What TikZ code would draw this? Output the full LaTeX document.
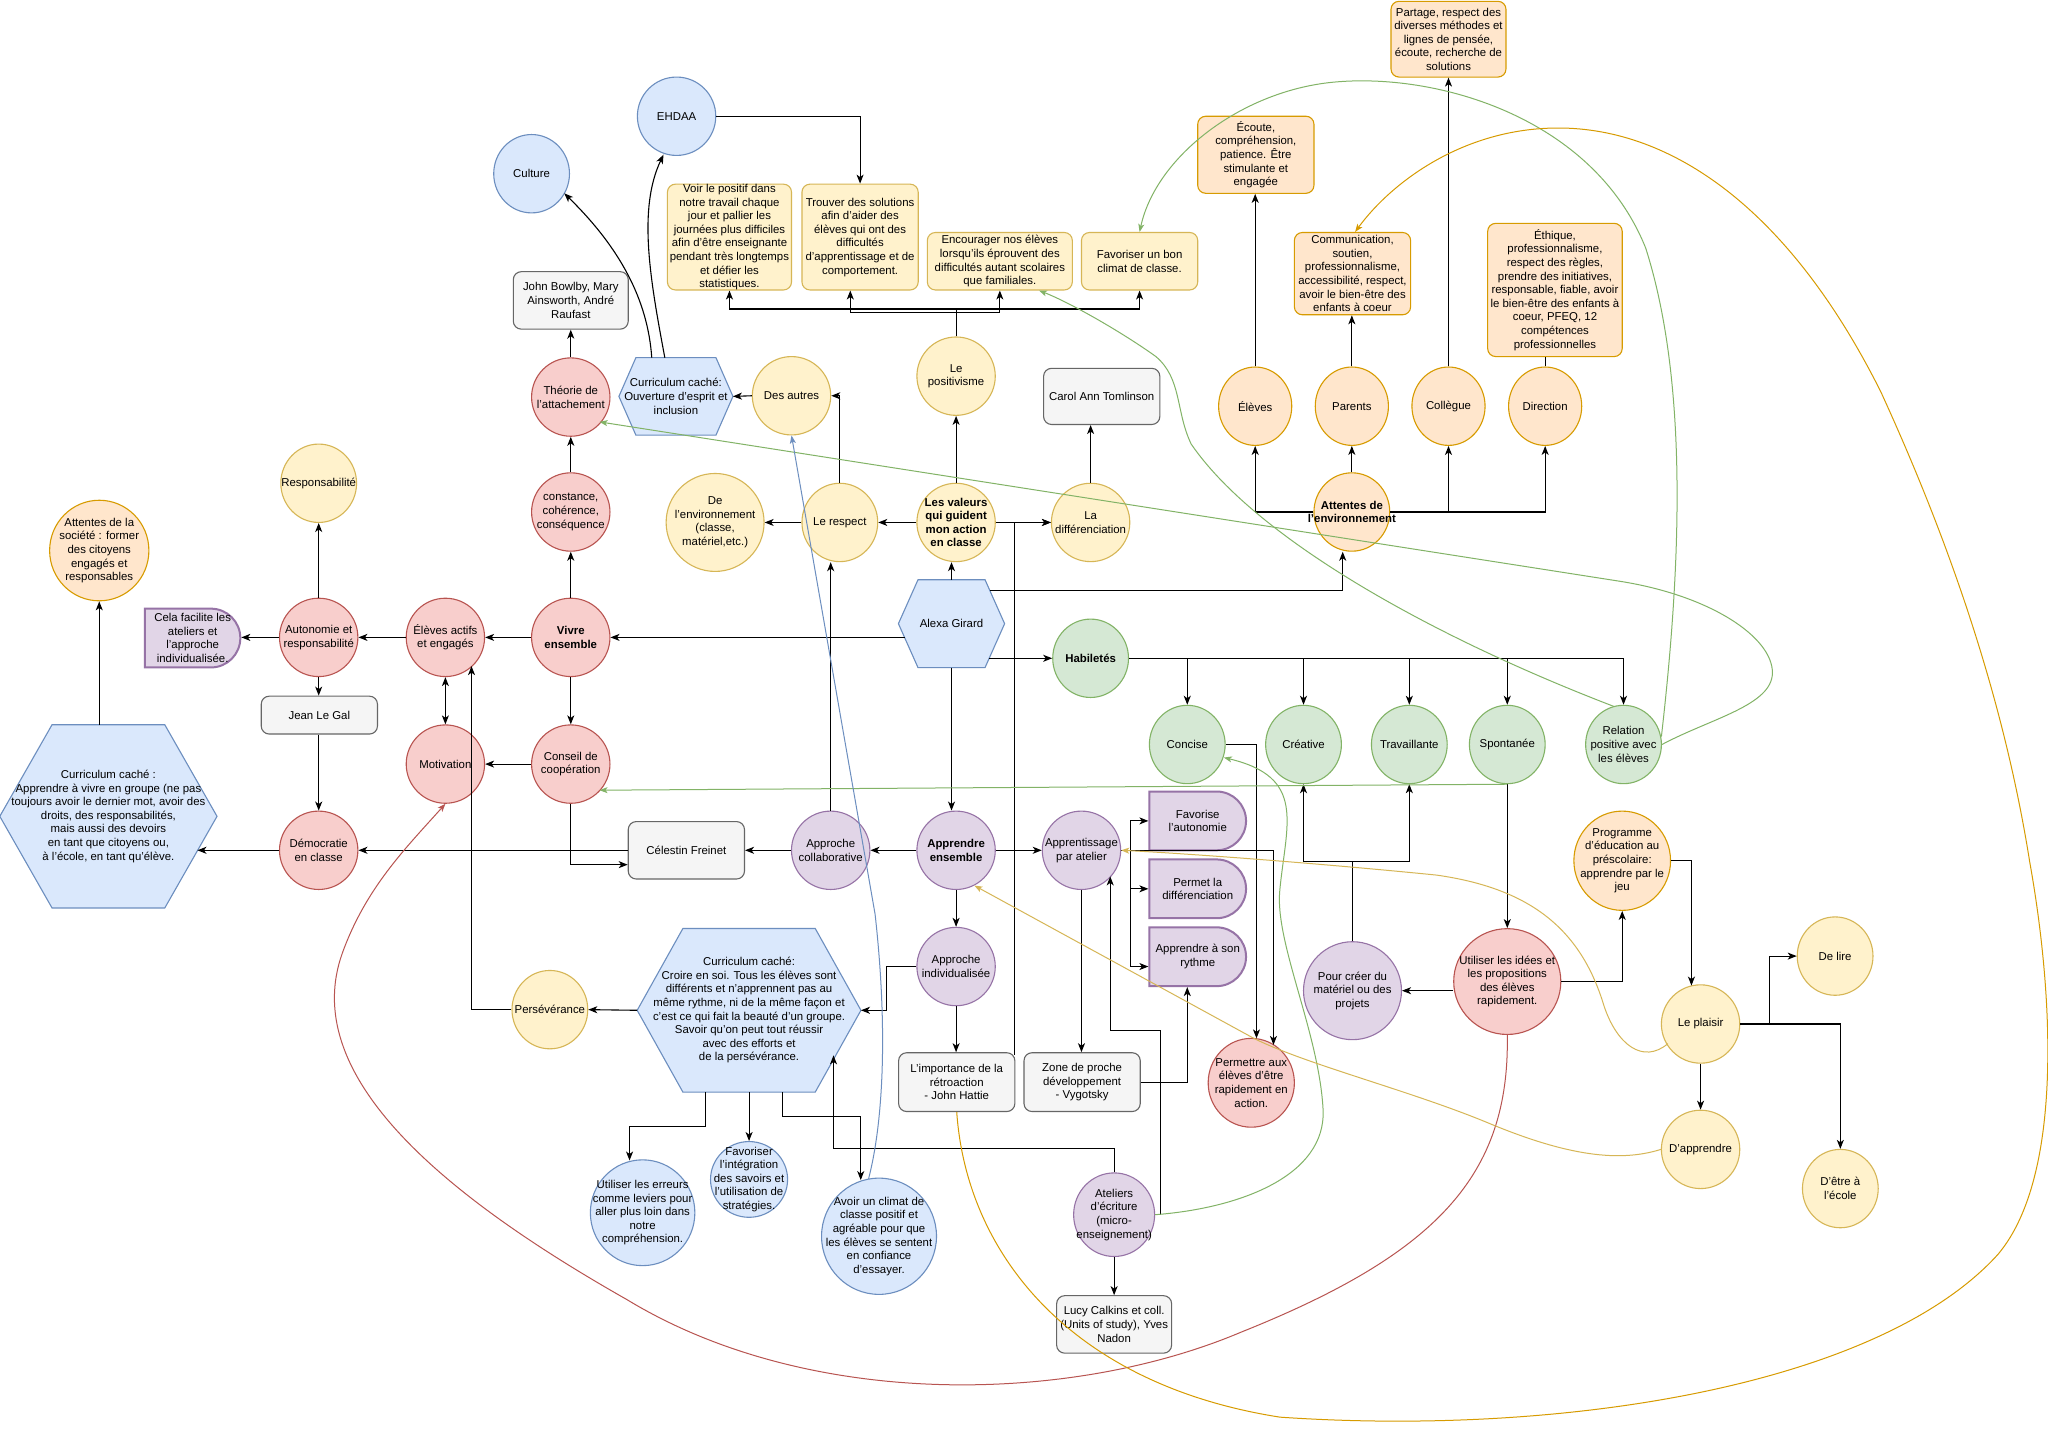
\documentclass[tikz,border=0pt]{standalone}
\usepackage{fontspec}
\setmainfont{Liberation Sans}
\usetikzlibrary{shapes.geometric,shapes.misc,arrows.meta,calc}
\definecolor{bluF}{HTML}{DAE8FC}\definecolor{bluD}{HTML}{6C8EBF}
\definecolor{redF}{HTML}{F8CECC}\definecolor{redD}{HTML}{B85450}
\definecolor{yelF}{HTML}{FFF2CC}\definecolor{yelD}{HTML}{D6B656}
\definecolor{oraF}{HTML}{FFE6CC}\definecolor{oraD}{HTML}{D79B00}
\definecolor{grnF}{HTML}{D5E8D4}\definecolor{grnD}{HTML}{82B366}
\definecolor{purF}{HTML}{E1D5E7}\definecolor{purD}{HTML}{9673A6}
\definecolor{gryF}{HTML}{F5F5F5}\definecolor{gryD}{HTML}{666666}
\tikzset{
  ell/.style={ellipse, draw, line width=1.1pt, inner sep=0pt},
  rbox/.style={rectangle, rounded corners=8pt, draw, line width=1.1pt, inner sep=0pt},
  dly/.style={rounded rectangle, rounded rectangle west arc=none, draw, line width=2pt, inner sep=0pt},
  hexs/.style={fill=bluF, draw=bluD, line width=1.1pt},
  cBlu/.style={fill=bluF, draw=bluD},
  cRed/.style={fill=redF, draw=redD},
  cYel/.style={fill=yelF, draw=yelD},
  cOra/.style={fill=oraF, draw=oraD},
  cGrn/.style={fill=grnF, draw=grnD},
  cPur/.style={fill=purF, draw=purD},
  cGry/.style={fill=gryF, draw=gryD},
  txt/.style={align=center, inner sep=0pt, font=\fontsize{11.4}{13.6}\selectfont},
  line/.style={draw=black, line width=1.1pt},
  arr/.style={draw=black, line width=1.1pt, -{Stealth[length=9pt,width=7pt,inset=2.5pt]}},
  arrb/.style={draw=black, line width=1.1pt, {Stealth[length=9pt,width=7pt,inset=2.5pt]}-{Stealth[length=9pt,width=7pt,inset=2.5pt]}},
  cl/.style={line width=1pt, -{Stealth[length=8pt,width=6pt,inset=2pt]}},
}
\newcommand\nd[6]{\node[#1, minimum width=#4*1.306pt, minimum height=#5*1.306pt] (#2) at (#3) {};
  \node[txt] (#2-t) at (#2.center) {#6};}
\newcommand\hx[7]{\node[rectangle, inner sep=0pt, minimum width=#4*1.306pt, minimum height=#5*1.306pt] (#2) at (#3) {};
  \draw[#1] (#2.west) -- ($(#2.north west)+(#6,0)$) -- ($(#2.north east)+(-#6,0)$) -- (#2.east) -- ($(#2.south east)+(-#6,0)$) -- ($(#2.south west)+(#6,0)$) -- cycle;
  \node[txt] (#2-t) at (#2.center) {#7};}
\begin{document}
\begin{tikzpicture}[x=1.306pt,y=-1.306pt]
\fill[white] (0,0) rectangle (1568,1099);
\useasboundingbox (0,0) rectangle (1568,1099);

% ---------- top ----------
\nd{ell,cBlu}{culture}{407,133}{58}{60}{Culture}
\nd{ell,cBlu}{ehdaa}{518,89}{60}{60}{EHDAA}
\nd{rbox,cYel}{voir}{558.5,181.5}{95}{81}{Voir le positif dans\\notre travail chaque\\jour et pallier les\\journées plus difficiles\\afin d'être enseignante\\pendant très longtemps\\et défier les\\statistiques.}
\nd{rbox,cYel}{trouv}{658.5,181.5}{89}{81}{Trouver des solutions\\afin d'aider des\\élèves qui ont des\\difficultés\\d'apprentissage et de\\comportement.}
\nd{rbox,cYel}{enc}{765.5,200}{111}{44}{Encourager nos élèves\\lorsqu'ils éprouvent des\\difficultés autant scolaires\\que familiales.}
\nd{rbox,cYel}{fav}{872.5,200}{89}{44}{Favoriser un bon\\climat de classe.}
\nd{rbox,cOra}{ecoute}{961.5,118.5}{89}{59}{Écoute,\\compréhension,\\patience. Être\\stimulante et\\engagée}
\nd{rbox,cOra}{partage}{1109,30}{88}{58}{Partage, respect des\\diverses méthodes et\\lignes de pensée,\\écoute, recherche de\\solutions}
\nd{rbox,cOra}{comm}{1035.5,209.5}{89}{63}{Communication,\\soutien,\\professionnalisme,\\accessibilité, respect,\\avoir le bien-être des\\enfants à coeur}
\nd{rbox,cOra}{ethique}{1190.5,222}{103}{102}{Éthique,\\professionnalisme,\\respect des règles,\\prendre des initiatives,\\responsable, fiable, avoir\\le bien-être des enfants à\\coeur, PFEQ, 12\\compétences\\professionnelles}
\nd{rbox,cGry}{bowlby}{437,230}{88}{44}{John Bowlby, Mary\\Ainsworth, André\\Raufast}
\nd{ell,cRed}{theo}{437,304}{60}{60}{Théorie de\\l'attachement}
\hx{hexs}{ouv}{517.5,303.5}{87}{59}{13}{Curriculum caché:\\Ouverture d'esprit et\\inclusion}
\nd{ell,cYel}{desautres}{606,303}{60}{60}{Des autres}
\nd{ell,cYel}{pos}{732,288}{60}{60}{Le\\positivisme}
\nd{rbox,cGry}{carol}{843.5,303.5}{89}{43}{Carol Ann Tomlinson}
\nd{ell,cOra}{eleves}{961,311}{56}{60}{Élèves}
\nd{ell,cOra}{parents}{1035,311}{56}{60}{Parents}
\nd{ell,cOra}{collegue}{1109,311}{56}{60}{Collègue}
\nd{ell,cOra}{direction}{1183,311}{56}{60}{Direction}
\nd{ell,cOra}{attenv}{1035,392}{58}{60}{\textbf{Attentes de}\\\textbf{l'environnement}}

% ---------- middle ----------
\nd{ell,cYel}{resp}{244,370}{58}{60}{Responsabilité}
\nd{ell,cOra}{soc}{76,421.5}{76}{77}{Attentes de la\\société : former\\des citoyens\\engagés et\\responsables}
\nd{ell,cRed}{const}{437,392}{60}{60}{constance,\\cohérence,\\conséquence}
\nd{ell,cYel}{denv}{547.5,400}{75}{75}{De\\l'environnement\\(classe,\\matériel,etc.)}
\nd{ell,cYel}{respect}{643,400}{58}{60}{Le respect}
\nd{ell,cYel}{valeurs}{732,400}{60}{60}{\textbf{Les valeurs}\\\textbf{qui guident}\\\textbf{mon action}\\\textbf{en classe}}
\nd{ell,cYel}{ladiff}{835,400}{60}{60}{La\\différenciation}
\nd{dly,cPur}{cela}{147.5,488.5}{73}{45}{Cela facilite les\\ateliers et\\l'approche\\individualisée.}
\nd{ell,cRed}{auto}{244,488}{60}{60}{Autonomie et\\responsabilité}
\nd{ell,cRed}{actifs}{341,488}{60}{60}{Élèves actifs\\et engagés}
\nd{ell,cRed}{vivre}{437,488}{60}{60}{\textbf{Vivre}\\\textbf{ensemble}}
\hx{hexs}{alexa}{728.5,477.5}{81}{67}{15}{Alexa Girard}
\nd{ell,cGrn}{habil}{835,504}{58}{60}{\textbf{Habiletés}}
\nd{rbox,cGry}{jlg}{244.5,547.5}{89}{29}{Jean Le Gal}
\nd{ell,cGrn}{concise}{909,570}{58}{60}{Concise}
\nd{ell,cGrn}{creative}{998,570}{58}{60}{Créative}
\nd{ell,cGrn}{travail}{1079,570}{58}{60}{Travaillante}
\nd{ell,cGrn}{spont}{1154,570}{58}{60}{Spontanée}
\nd{ell,cGrn}{relation}{1243,570}{58}{60}{Relation\\positive avec\\les élèves}
\nd{ell,cRed}{motiv}{341,585}{60}{60}{Motivation}
\nd{ell,cRed}{conseil}{437,585}{60}{60}{Conseil de\\coopération}
\hx{hexs}{bighex}{83,625}{166}{140}{40}{Curriculum caché :\\Apprendre à vivre en groupe (ne pas\\toujours avoir le dernier mot, avoir des\\droits, des responsabilités,\\mais aussi des devoirs\\en tant que citoyens ou,\\à l'école, en tant qu'élève.}
\nd{dly,cPur}{favo}{917,628.5}{74}{45}{Favorise\\l'autonomie}
\nd{dly,cPur}{perm}{917,680.5}{74}{45}{Permet la\\différenciation}
\nd{dly,cPur}{ryth}{917,732.5}{74}{45}{Apprendre à son\\rythme}
\nd{ell,cOra}{prog}{1242,659}{74}{76}{Programme\\d'éducation au\\préscolaire:\\apprendre par le\\jeu}
\nd{ell,cRed}{demo}{244,651}{60}{60}{Démocratie\\en classe}
\nd{rbox,cGry}{freinet}{525.5,651}{89}{44}{Célestin Freinet}
\nd{ell,cPur}{collab}{636,651}{60}{60}{Approche\\collaborative}
\nd{ell,cPur}{appens}{732,651}{60}{60}{\textbf{Apprendre}\\\textbf{ensemble}}
\nd{ell,cPur}{atelier}{828,651}{60}{60}{Apprentissage\\par atelier}

% ---------- bottom ----------
\nd{ell,cPur}{indiv}{732,740}{60}{60}{Approche\\individualisée}
\nd{ell,cYel}{persev}{421,773}{58}{60}{Persévérance}
\hx{hexs}{croire}{573.5,773.5}{171}{125}{35}{Curriculum caché:\\Croire en soi. Tous les élèves sont\\différents et n'apprennent pas au\\même rythme, ni de la même façon et\\c'est ce qui fait la beauté d'un groupe.\\Savoir qu'on peut tout réussir\\avec des efforts et\\de la persévérance.}
\nd{rbox,cGry}{importance}{732.5,828.5}{89}{45}{L'importance de la\\rétroaction\\- John Hattie}
\nd{rbox,cGry}{zone}{828.5,828.5}{89}{45}{Zone de proche\\développement\\- Vygotsky}
\nd{ell,cRed}{permettre}{958,829}{66}{68}{Permettre aux\\élèves d'être\\rapidement en\\action.}
\nd{ell,cPur}{creer}{1035.5,758.5}{75}{75}{Pour créer du\\matériel ou des\\projets}
\nd{ell,cRed}{idees}{1154,751.5}{82}{81}{Utiliser les idées et\\les propositions\\des élèves\\rapidement.}
\nd{ell,cYel}{delire}{1405,732}{58}{60}{De lire}
\nd{ell,cYel}{plaisir}{1302,784}{60}{60}{Le plaisir}
\nd{ell,cYel}{dapp}{1302,880}{60}{60}{D'apprendre}
\nd{ell,cYel}{detre}{1409,910}{58}{60}{D'être à\\l'école}
\nd{ell,cBlu}{erreurs}{492,928.5}{80}{81}{Utiliser les erreurs\\comme leviers pour\\aller plus loin dans\\notre\\compréhension.}
\nd{ell,cBlu}{integ}{573.5,903}{59}{58}{Favoriser\\l'intégration\\des savoirs et\\l'utilisation de\\stratégies.}
\nd{ell,cBlu}{climat}{673,946.5}{88}{89}{Avoir un climat de\\classe positif et\\agréable pour que\\les élèves se sentent\\en confiance\\d'essayer.}
\nd{ell,cPur}{ateliers}{853,930}{62}{64}{Ateliers\\d'écriture\\(micro-\\enseignement)}
\nd{rbox,cGry}{lucy}{853,1014}{88}{44}{Lucy Calkins et coll.\\(Units of study), Yves\\Nadon}

% ---------- black connectors ----------
\draw[arr] ($(ouv.north)+(-18.5,0)$) .. controls (496,230) and (475,190) .. ($(culture.center)+(25,15)$);
\draw[arr] ($(ouv.north)+(-8.5,0)$) .. controls (498,215) and (488,160) .. ($(ehdaa.south)+(-10,-1)$);
\draw[arr] (ehdaa.east) -| (trouv.north);
\coordinate (pj) at ($(pos.north)+(0,-21)$);
\coordinate (pj2) at ($(pos.north)+(0,-18)$);
\draw[line] (pos.north) -- (pj);
\draw[arr] (pj) -| (voir.south);
\draw[arr] (pj) -| (fav.south);
\draw[arr] (pj2) -| ($(trouv.south)+(-7.5,0)$);
\draw[arr] (pj2) -| (enc.south);
\draw[arr] (theo.north) -- (bowlby.south);
\draw[arr] (const.north) -- (theo.south);
\draw[arr] (vivre.north) -- (const.south);
\draw[arr] (vivre.west) -- (actifs.east);
\draw[arr] (actifs.west) -- (auto.east);
\draw[arr] (auto.west) -- (cela.east |- auto.west);
\draw[arr] (auto.north) -- (resp.south);
\draw[arr] (auto.south) -- (auto.south |- jlg.north);
\draw[arr] (jlg.south -| demo.north) -- (demo.north);
\draw[arrb] (actifs.south) -- (motiv.north);
\draw[arr] (vivre.south) -- (conseil.north);
\draw[arr] (conseil.west) -- (motiv.east);
\draw[arr] (conseil.south) |- ($(freinet.west)+(0,11)$);
\draw[arr] (freinet.west) -- (demo.east);
\draw[arr] (demo.west) -- ($(bighex.east)+(-15,26)$);
\draw[arr] (bighex.north -| soc.south) -- (soc.south);
\draw[arr] ($(alexa.west)+(5,10.5)$) -- (vivre.east);
\draw[arr] (alexa.north) -- (alexa.north |- valeurs.south);
\draw[arr] ($(alexa.north east)+(-11,8)$) -| ($(attenv.south)+(-7,0)$);
\draw[arr] ($(alexa.east)+(-12,26.5)$) -- (habil.west);
\draw[arr] (alexa.south) -- (alexa.south |- appens.north);
\draw[arr] (valeurs.west) -- (respect.east);
\draw[arr] (respect.west) -- (denv.east);
\draw[arr] (respect.north) |- (desautres.east);
\draw[arr] (desautres.west) -- (ouv.east);
\draw[arr] (valeurs.north) -- (pos.south);
\draw[arr] (valeurs.east) -- (ladiff.west);
\draw[arr] (ladiff.north) -- (ladiff.north |- carol.south);
\draw[arr] (attenv.west) -| (eleves.south);
\draw[arr] (attenv.north) -- (parents.south);
\draw[arr] (attenv.east) -| (collegue.south);
\draw[arr] (attenv.east) -| (direction.south);
\draw[arr] (eleves.north) -- (eleves.north |- ecoute.south);
\draw[arr] (parents.north) -- (parents.north |- comm.south);
\draw[arr] (collegue.north) -- (partage.south);
\draw[line] (direction.north) -- (direction.north |- ethique.south);
\foreach \n in {concise,creative,travail,spont,relation} \draw[arr] (habil.east) -| (\n.north);
\draw[arr] (collab.north) -- (collab.north |- respect.south);
\draw[arr] (appens.west) -- (collab.east);
\draw[arr] (collab.west) -- (freinet.east);
\draw[arr] (appens.east) -- (atelier.west);
\draw[arr] (appens.south) -- (indiv.north);
\draw[arr] (indiv.west) -- ++(-23,0) |- (croire.east);
\draw[arr] (indiv.south) -- (indiv.south |- importance.north);
\draw[arr] ($(importance.north east)+(-1,2)$) |- (ladiff.west);
\coordinate (atj) at ($(atelier.east)+(7,0)$);
\draw[line] (atelier.east) -- (atj);
\draw[arr] (atj) |- (favo.west);
\draw[arr] (atj) |- (perm.west);
\draw[arr] (atj) |- ($(ryth.west)+(0,7.5)$);
\draw[arr] (atelier.south) -- (atelier.south |- zone.north);
\draw[arr] (zone.east) -| ($(ryth.south)+(-8,0)$);
\draw[arr] (ateliers.east) -| ($(ateliers.east)+(4,-141)$) -| ($(atelier.center)+(22,20)$);
\draw[arr] (atelier.east) -| ($(permettre.center)+(17,-29)$);
\draw[arr] (concise.east) -| ($(permettre.center)+(4,-34)$);
\draw[arr] (spont.south) -- (idees.north);
\coordinate (cj) at ($(creer.north)+(0,-61)$);
\draw[line] (creer.north) -- (cj);
\draw[arr] (cj) -| (creative.south);
\draw[arr] (cj) -| (travail.south);
\draw[arr] (idees.west |- creer.east) -- (creer.east);
\draw[arr] (idees.east) -| (prog.south);
\draw[arr] (prog.east) -| ($(plaisir.north)+(-7,1)$);
\draw[arr] (plaisir.east) -- ++(22,0) |- (delire.west);
\draw[arr] (plaisir.east) -| (detre.north);
\draw[arr] (plaisir.south) -- (dapp.north);
\draw[arr] (persev.west) -| ($(actifs.center)+(20,22)$);
\draw[arr] (croire.west) -- (persev.east);
\draw[arr] ($(croire.south)+(-33.5,0)$) -- ++(0,26) -| ($(erreurs.center)+(-10,-40)$);
\draw[arr] (croire.south) -- (integ.north);
\draw[arr] ($(croire.south)+(25.5,0)$) -- ++(0,19) -| ($(climat.center)+(-14,-43)$);
\draw[arr] (ateliers.north) -- ++(0,-18) -| ($(croire.east)+(-21,34.5)$);
\draw[arr] (ateliers.south) -- (lucy.north);

% ---------- coloured curves ----------
\draw[cl,draw=grnD] (relation.east) .. controls (1310,550) and (1357,540) .. (1357,515) .. controls (1357,488) and (1310,456) .. (1240,445) -- ($(theo.center)+(22,19)$);
\draw[cl,draw=grnD] ($(relation.center)+(29,-6)$) .. controls (1285,450) and (1295,300) .. (1260,190) .. controls (1220,90) and (1100,55) .. (1020,63) .. controls (950,70) and (885,120) .. (fav.north);
\draw[cl,draw=grnD] (spont.south) -- ($(conseil.center)+(22,20)$);
\draw[cl,draw=grnD] ($(relation.center)+(-7,-29)$) .. controls (1090,485) and (960,410) .. (912,340) .. controls (900,315) and (905,290) .. (885,273) .. controls (860,255) and (820,232) .. ($(enc.south)+(30,0)$);
\draw[cl,draw=grnD] (ateliers.east) .. controls (950,925) and (1015,900) .. (1013,850) .. controls (1010,790) and (975,720) .. (980,680) .. controls (985,630) and (1000,595) .. ($(concise.center)+(28,10)$);
\draw[cl,draw=redD] (idees.south) .. controls (1156,900) and (1100,960) .. (950,1020) .. controls (820,1075) and (620,1080) .. (480,995) .. controls (330,910) and (230,820) .. (262,730) .. controls (280,680) and (310,650) .. (motiv.south);
\draw[cl,draw=oraD] (importance.south) .. controls (740,960) and (820,1060) .. (980,1085) .. controls (1200,1100) and (1440,1060) .. (1530,960) .. controls (1580,900) and (1572,760) .. (1554,660) .. controls (1535,540) and (1495,420) .. (1440,300) .. controls (1370,160) and (1280,98) .. (1193,98) .. controls (1120,98) and (1065,140) .. ($(comm.north)+(2,0)$);
\draw[cl,draw=yelD] ($(plaisir.center)+(-25,15)$) .. controls (1258,815) and (1238,800) .. (1228,770) .. controls (1210,710) and (1170,680) .. (1100,670) .. controls (1000,660) and (900,653) .. (atelier.east);
\draw[cl,draw=yelD] (dapp.west) .. controls (1240,890) and (1200,885) .. (1140,860) .. controls (1080,835) and (1000,815) .. (960,795) -- (746,678);
\draw[cl,draw=bluD] ($(climat.center)+(-8,-44)$) .. controls (676,860) and (680,790) .. (670,700) -- (desautres.south);
\end{tikzpicture}
\end{document}
